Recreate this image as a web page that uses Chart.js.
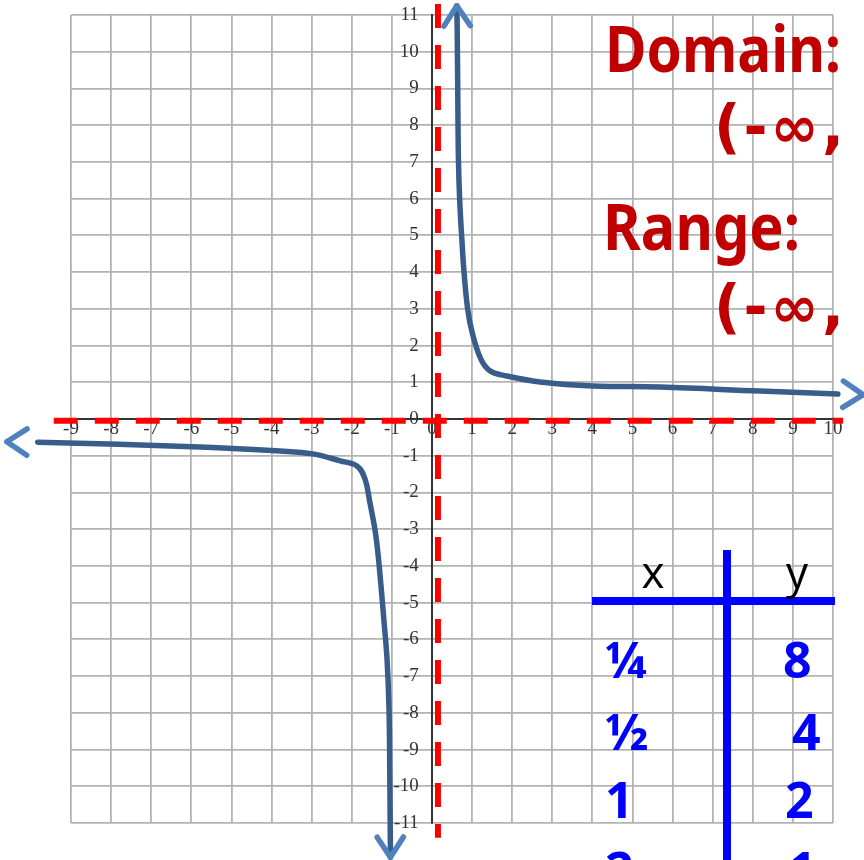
<!DOCTYPE html>
<html>
<head>
<meta charset="utf-8">
<script src="https://cdn.jsdelivr.net/npm/chart.js@4.4.1/dist/chart.umd.min.js"></script>
<style>
  html, body { margin: 0; padding: 0; background: #fff; }
  #wrap { width: 864px; height: 860px; }
</style>
</head>
<body>
<div id="wrap"><canvas id="graph" width="864" height="860"></canvas></div>
<script>
// axis ticks (graph paper)
const xTicks = [-9, -8, -7, -6, -5, -4, -3, -2, -1, 0, 1, 2, 3, 4, 5, 6, 7, 8, 9, 10];
const yTicks = [-11, -10, -9, -8, -7, -6, -5, -4, -3, -2, -1, 0, 1, 2, 3, 4, 5, 6, 7, 8, 9, 10, 11];

// hand drawn branches
const upperX = [0.62, 0.63, 0.645, 0.66, 0.69, 0.74, 0.80, 0.89, 1.0, 1.22, 1.45, 1.87, 2.69, 4.01, 5.69, 8.18, 10.12, 10.75];
const upperY = [11.25, 10.6, 8.7, 7.1, 6.0, 5.0, 4.0, 3.0, 2.37, 1.63, 1.31, 1.17, 1.01, 0.90, 0.87, 0.76, 0.68, 0.66];
const lowerX = [-10.6, -9.83, -5.79, -3.79, -2.97, -2.29, -1.87, -1.67, -1.55, -1.42, -1.35, -1.27, -1.20, -1.12, -1.07, -1.05, -1.035];
const lowerY = [-0.62, -0.63, -0.76, -0.87, -0.95, -1.14, -1.28, -1.63, -2.26, -3.02, -3.62, -4.55, -5.45, -6.54, -7.90, -9.81, -11.93];

// asymptotes (red dashed)
const vAsymX = [0.15, 0.15];
const vAsymY = [11.3, -11.4];
const hAsymX = [-9.43, 10.25];
const hAsymY = [-0.05, -0.05];

// table of values
const tableX = ['¼', '½', '1', '2'];
const tableY = ['8', '4', '2', '1'];

const pts = (xs, ys) => xs.map((x, i) => ({x: x, y: ys[i]}));

// arrow heads on both ends of each branch
function drawHead(ctx, tip, from) {
    const a = Math.atan2(tip.y - from.y, tip.x - from.x);
    const len = 24, spread = 0.58;
    ctx.beginPath();
    [-1, 1].forEach(s => {
        ctx.moveTo(tip.x, tip.y);
        ctx.lineTo(tip.x - len * Math.cos(a + s * spread), tip.y - len * Math.sin(a + s * spread));
    });
    ctx.stroke();
}

const arrowPlugin = {
    id: 'arrows',
    afterDatasetsDraw(chart) {
        const ctx = chart.ctx;
        ctx.save();
        ctx.strokeStyle = '#4f81bd';
        ctx.lineWidth = 5.5;
        ctx.lineCap = 'round';
        ctx.lineJoin = 'round';
        [0, 1].forEach(i => {
            const els = chart.getDatasetMeta(i).data;
            const n = els.length;
            drawHead(ctx, els[0], els[1]);
            drawHead(ctx, els[n - 1], els[n - 2]);
        });
        ctx.restore();
    }
};

const notesPlugin = {
    id: 'notes',
    afterDraw(chart) {
        const ctx = chart.ctx;
        ctx.save();
        // domain / range
        ctx.fillStyle = '#c00000';
        ctx.font = 'bold 64px "Noto Sans"';
        ctx.fillText('Domain:', 605, 72, 236);
        ctx.fillText('Range:', 603, 250, 197);
        ctx.font = 'bold 58px "DejaVu Sans"';
        ctx.letterSpacing = '3px';
        ctx.fillText('(-∞,', 714, 147);
        ctx.fillText('(-∞,', 714, 327);
        ctx.letterSpacing = '0px';

        // table lines
        ctx.fillStyle = '#0000ff';
        ctx.fillRect(592, 597, 243, 8);
        ctx.fillRect(723, 550, 8, 310);

        ctx.fillStyle = '#000';
        ctx.font = '44px "Open Sans"';
        ctx.textAlign = 'center';
        ctx.fillText('x', 653, 588);
        ctx.fillText('y', 797, 588);

        ctx.fillStyle = '#0000ff';
        ctx.font = 'bold 50px "Open Sans"';
        ctx.textAlign = 'left';
        const rows = [678, 750, 818, 888];
        const yLeft = [783, 792, 785, 788];
        rows.forEach((b, i) => {
            ctx.fillText(tableX[i], 605, b);
            ctx.fillText(tableY[i], yLeft[i], b);
        });
        ctx.restore();
    }
};

const tickFont = {family: '"Liberation Serif", serif', size: 19};
const gridStyle = {color: '#b3b3b3', lineWidth: 1.8, drawTicks: false};

new Chart(document.getElementById('graph'), {
    type: 'line',
    data: {
        datasets: [
            {data: pts(upperX, upperY), borderColor: '#385d8a', borderWidth: 5.5, pointRadius: 0,
                tension: 0.4, clip: false, borderCapStyle: 'round'},
            {data: pts(lowerX, lowerY), borderColor: '#385d8a', borderWidth: 5.5, pointRadius: 0,
                tension: 0.4, clip: false, borderCapStyle: 'round'},
            {data: pts(vAsymX, vAsymY), borderColor: '#ff0000', borderWidth: 6, borderDash: [24, 17],
                pointRadius: 0, tension: 0, clip: false},
            {data: pts(hAsymX, hAsymY), borderColor: '#ff0000', borderWidth: 6, borderDash: [24, 17],
                pointRadius: 0, tension: 0, clip: false}
        ]
    },
    options: {
        responsive: false,
        animation: false,
        devicePixelRatio: 1,
        layout: {padding: {left: 71, right: 31, top: 15, bottom: 37}},
        plugins: {legend: {display: false}, tooltip: {enabled: false}},
        scales: {
            x: {
                type: 'linear', min: -9, max: 10,
                position: {y: 0},
                afterBuildTicks: s => { s.ticks = xTicks.map(v => ({value: v})); },
                grid: gridStyle,
                border: {color: '#333', width: 2},
                ticks: {font: tickFont, color: '#333', padding: -1, autoSkip: false, maxRotation: 0}
            },
            y: {
                type: 'linear', min: -11, max: 11,
                position: {x: 0},
                afterBuildTicks: s => { s.ticks = yTicks.map(v => ({value: v})); },
                grid: gridStyle,
                border: {color: '#333', width: 2},
                ticks: {display: false}
            },
            // y labels sit a little left of the y axis
            yLabels: {
                axis: 'y',
                type: 'linear', min: -11, max: 11,
                position: {x: -0.33},
                afterBuildTicks: s => { s.ticks = yTicks.map(v => ({value: v})); },
                grid: {display: false},
                border: {display: false},
                ticks: {font: tickFont, color: '#333', autoSkip: false}
            }
        }
    },
    plugins: [arrowPlugin, notesPlugin]
});
</script>
</body>
</html>
